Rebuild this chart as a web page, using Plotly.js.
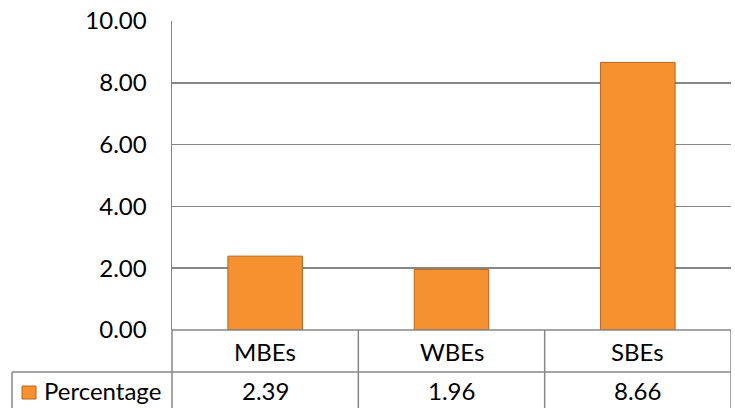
<!DOCTYPE html>
<html>
<head>
<meta charset="utf-8">
<script src="https://cdn.plot.ly/plotly-3.0.1.min.js"></script>
<style>html,body{margin:0;padding:0;background:#fff;}#chart{width:735px;height:408px;}</style>
</head>
<body>
<div id="chart"></div>
<script>
var categories = ["MBEs", "WBEs", "SBEs"];
var percentage = [2.39, 1.96, 8.66];
var seriesName = "Percentage";
var yTicks = [0, 2, 4, 6, 8, 10];

var FONT = "Lato, 'Open Sans', sans-serif";
var GRID = "#878787";
var H = 408, T = 21, B = 78, L = 172, R = 4;
var plotH = H - T - B, plotW = 735 - L - R;
function py(px) { return (H - B - px) / plotH; }
function pxX(px) { return (px - L) / plotW; }

var xIdx = categories.map(function (c, i) { return i; });

var trace = {
  type: "bar",
  x: xIdx,
  y: percentage,
  width: 0.4,
  marker: { color: "#F5922F", line: { color: "#B9641D", width: 1 } },
  hoverinfo: "none",
  showlegend: false
};

var shapes = [];
var lineStyle = { color: GRID, width: 1.5 };
shapes.push({ type: "line", xref: "paper", yref: "paper", x0: 0, x1: 1, y0: 0, y1: 0, line: lineStyle });
shapes.push({ type: "line", xref: "paper", yref: "paper", x0: pxX(12), x1: 1, y0: py(372), y1: py(372), line: lineStyle });
shapes.push({ type: "line", xref: "paper", yref: "paper", x0: pxX(12), x1: pxX(12), y0: py(372), y1: py(408), line: lineStyle });
shapes.push({ type: "line", xref: "paper", yref: "paper", x0: 0, x1: 0, y0: 0, y1: py(408), line: lineStyle });
for (var i = 0; i < categories.length; i++) {
  shapes.push({ type: "line", xref: "x", yref: "paper", x0: i + 0.5, x1: i + 0.5, y0: 0, y1: py(408), line: lineStyle });
}
shapes.push({ type: "rect", xref: "paper", yref: "paper", x0: pxX(22), x1: pxX(36), y0: py(399), y1: py(386),
  fillcolor: "#F5922F", line: { color: "#B9641D", width: 1 } });

var annotations = [];
categories.forEach(function (c, i) {
  annotations.push({ x: i, xref: "x", y: py(351), yref: "paper", text: c, showarrow: false,
    xanchor: "center", yanchor: "middle", font: { family: FONT, size: 24, color: "#000" } });
  annotations.push({ x: i, xref: "x", y: py(390), yref: "paper", text: percentage[i].toFixed(2), showarrow: false,
    xanchor: "center", yanchor: "middle", font: { family: FONT, size: 24, color: "#000" } });
});
annotations.push({ x: pxX(42), xref: "paper", y: py(390), yref: "paper", text: seriesName, showarrow: false,
  xanchor: "left", yanchor: "middle", font: { family: FONT, size: 24, color: "#000" } });

var layout = {
  width: 735, height: 408,
  margin: { l: L, r: R, t: T, b: B, pad: 0 },
  paper_bgcolor: "#fff", plot_bgcolor: "#fff",
  xaxis: { range: [-0.5, 2.5], showticklabels: false, showgrid: false, zeroline: false, showline: false, ticks: "", fixedrange: true },
  yaxis: {
    range: [0, 10], tickvals: yTicks, ticktext: yTicks.map(function (v) { return v.toFixed(2); }),
    showgrid: true, gridcolor: GRID, gridwidth: 1.5, zeroline: false,
    showline: true, linecolor: GRID, linewidth: 1.5, ticks: "", ticklabelstandoff: 19,
    tickfont: { family: FONT, size: 24, color: "#000" }, fixedrange: true
  },
  shapes: shapes,
  annotations: annotations,
  showlegend: false
};

Plotly.newPlot("chart", [trace], layout, { displayModeBar: false, staticPlot: true });
</script>
</body>
</html>
